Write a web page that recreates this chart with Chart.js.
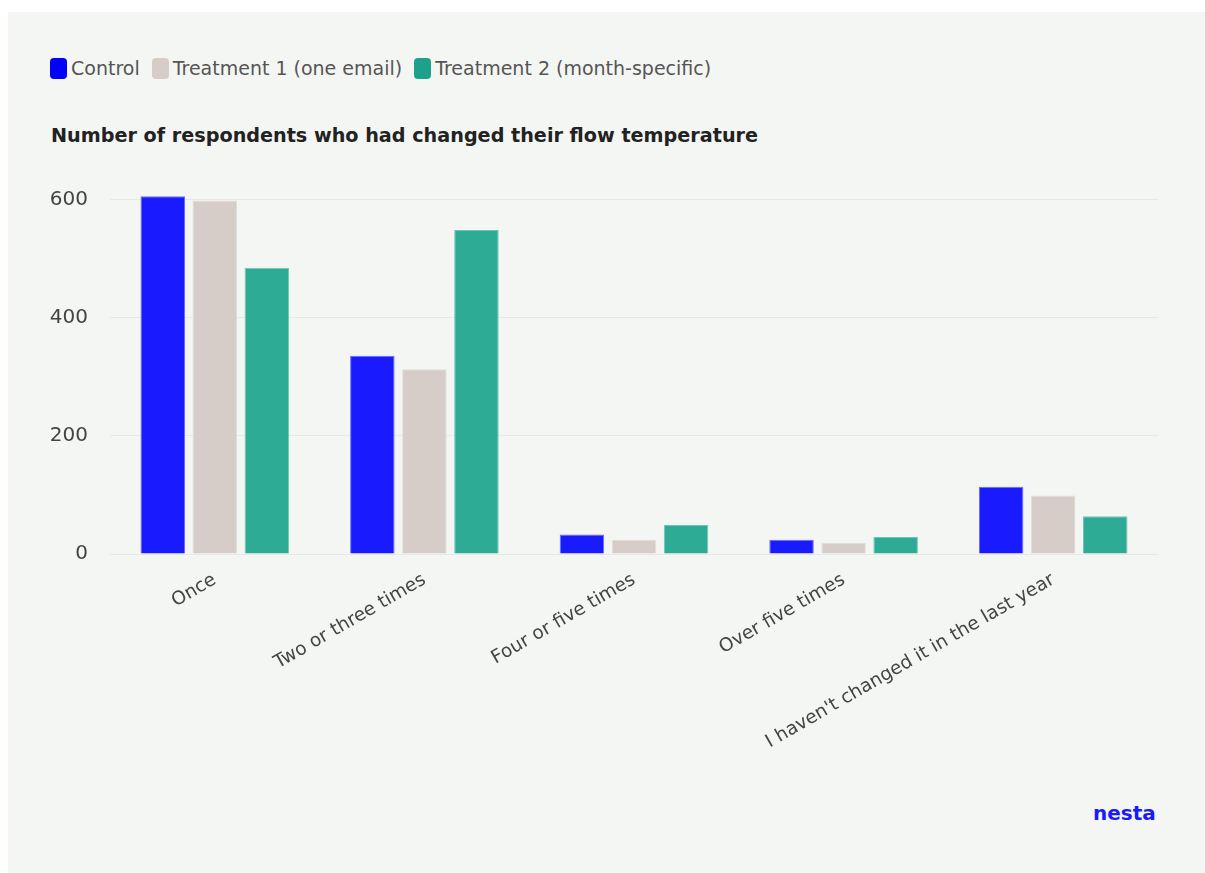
<!DOCTYPE html>
<html>
<head>
<meta charset="utf-8">
<script src="https://cdn.jsdelivr.net/npm/chart.js@4"></script>
<style>
  body { margin: 0; background: #fff; font-family: "DejaVu Sans", sans-serif; }
  #panel { position: absolute; left: 8px; top: 12px; width: 1197px; height: 861px; background: #f4f6f3; }
  #legend { position: absolute; left: 42px; top: 45px; display: flex; align-items: center; font-size: 19px; color: #555; }
  .item { display: flex; align-items: center; margin-right: 12px; }
  .box { width: 17px; height: 21px; border-radius: 4px; margin-right: 4px; }
  #title { position: absolute; left: 43px; top: 112px; font-size: 19.2px; font-weight: bold; color: #222; }
  #logo { position: absolute; left: 1085px; top: 789px; font-size: 20px; font-weight: bold; color: #1a1aff; }
  #wrap { position: absolute; left: 12px; top: 142px; width: 1160px; height: 640px; }
</style>
</head>
<body>
<div id="panel">
  <div id="legend"></div>
  <div id="title">Number of respondents who had changed their flow temperature</div>
  <div id="wrap"><canvas id="grafico"></canvas></div>
  <div id="logo">nesta</div>
</div>
<script>
const categories = ['Once', 'Two or three times', 'Four or five times', 'Over five times', "I haven't changed it in the last year"];
const seriesNames = ['Control', 'Treatment 1 (one email)', 'Treatment 2 (month-specific)'];
const control = [606, 336, 33, 24, 114];
const treatment1 = [599, 313, 24, 19, 99];
const treatment2 = [485, 549, 49, 29, 64];
const yTicks = [0, 200, 400, 600];

const colors = ['#1a1aff', '#d6cdc8', '#2eab95'];
const borders = ['#6a6aff', '#e3dcd8', '#6cc6b5'];
const legendColors = ['#0000ff', '#d6cdc8', '#1fa08a'];

// legend en HTML
const legend = document.getElementById('legend');
seriesNames.forEach((name, i) => {
  const item = document.createElement('div');
  item.className = 'item';
  item.innerHTML = '<span class="box" style="background:' + legendColors[i] + '"></span>' + name;
  legend.appendChild(item);
});

const data = {
  labels: categories,
  datasets: [control, treatment1, treatment2].map((vals, i) => ({
    label: seriesNames[i],
    data: vals,
    backgroundColor: colors[i],
    borderColor: borders[i],
    borderWidth: 1,
    categoryPercentage: 0.745,
    barPercentage: 0.855
  }))
};

new Chart(document.getElementById('grafico'), {
  type: 'bar',
  data,
  options: {
    responsive: true,
    maintainAspectRatio: false,
    animation: false,
    layout: { padding: { top: 0, right: 22, left: 0, bottom: 0 } },
    plugins: { legend: { display: false }, tooltip: { enabled: false } },
    scales: {
      x: {
        grid: { display: false },
        border: { display: false },
        afterFit: s => { s.height = 240; },
        ticks: {
          minRotation: 30, maxRotation: 30, padding: 7,
          color: '#444', font: { family: '"DejaVu Sans", sans-serif', size: 18.5 }
        }
      },
      y: {
        min: 0, max: 620,
        afterFit: s => { s.width = 90; },
        afterBuildTicks: s => { s.ticks = yTicks.map(v => ({ value: v })); },
        grid: { color: '#e6e9e5', drawTicks: false },
        border: { display: false },
        ticks: {
          padding: 22, color: '#444',
          font: { family: '"DejaVu Sans", sans-serif', size: 20 }
        }
      }
    }
  }
});
</script>
</body>
</html>
